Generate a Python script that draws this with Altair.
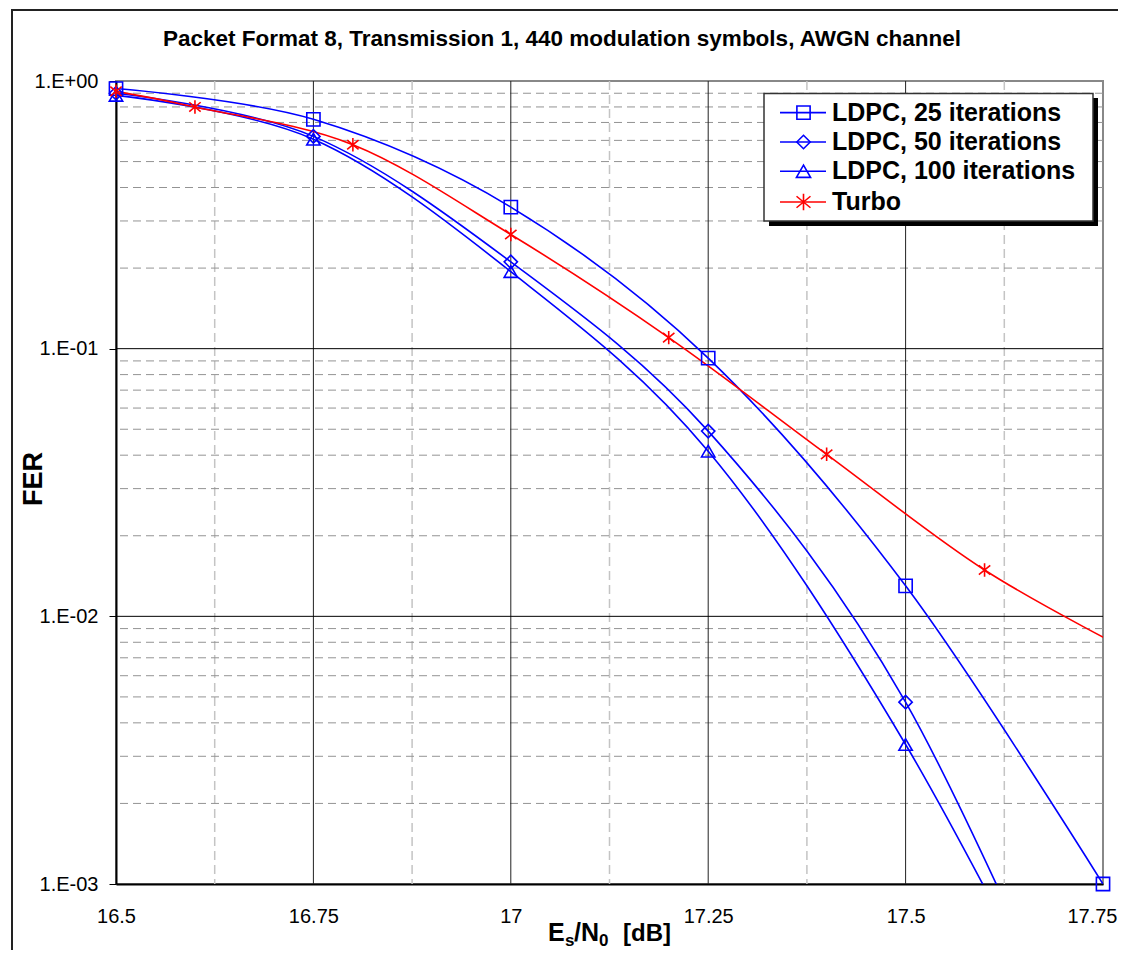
import altair as alt
import pandas as pd

# ---------------- data ----------------
es_ldpc = [16.5, 16.75, 17.0, 17.25, 17.5, 17.75]
fer_ldpc25 = [0.937, 0.719, 0.338, 0.0922, 0.0130, 0.0010]
fer_ldpc50 = [0.900, 0.621, 0.211, 0.0492, 0.00478, 0.000129]
fer_ldpc100 = [0.884, 0.606, 0.194, 0.0414, 0.00332, 0.000135]
es_turbo = [16.5, 16.6, 16.8, 17.0, 17.2, 17.4, 17.6, 17.8]
fer_turbo = [0.915, 0.800, 0.578, 0.267, 0.110, 0.0403, 0.0149, 0.0070]

series_names = ["LDPC, 25 iterations", "LDPC, 50 iterations",
                "LDPC, 100 iterations", "Turbo"]
series_colors = ["#0000FF", "#0000FF", "#0000FF", "#FF0000"]
ASTERISK = "M0,-1L0,1M-0.85,-0.7L0.85,0.7M-0.85,0.7L0.85,-0.7"
series_shapes = ["square", "diamond", "triangle-up", ASTERISK]
series_sizes = [175, 180, 200, 270]

x_ticks = [16.5, 16.75, 17.0, 17.25, 17.5, 17.75]
x_major_grid = [16.75, 17.0, 17.25, 17.5]
x_minor_grid = [16.625, 16.875, 17.125, 17.375, 17.625]
y_ticks = [1.0, 0.1, 0.01, 0.001]
y_major_grid = [0.1, 0.01]
y_minor_grid = [0.002, 0.003, 0.004, 0.005, 0.006, 0.007, 0.008, 0.009,
                0.02, 0.03, 0.04, 0.05, 0.06, 0.07, 0.08, 0.09,
                0.2, 0.3, 0.4, 0.5, 0.6, 0.7, 0.8, 0.9]

title_text = "Packet Format 8, Transmission 1, 440 modulation symbols, AWGN channel"

FONT = "Liberation Sans"
W, H = 987, 803

rows = []
for name, xs_, ys_ in [(series_names[0], es_ldpc, fer_ldpc25),
                       (series_names[1], es_ldpc, fer_ldpc50),
                       (series_names[2], es_ldpc, fer_ldpc100),
                       (series_names[3], es_turbo, fer_turbo)]:
    for a, b in zip(xs_, ys_):
        rows.append({"series": name, "esn0": a, "fer": b})
df = pd.DataFrame(rows)

xs = alt.Scale(domain=[16.5, 17.75], nice=False, zero=False)
ys = alt.Scale(type="log", domain=[0.001, 1], nice=False)

x_axis = alt.Axis(values=x_ticks, labelExpr="'' + datum.value", title=None, grid=False,
                  domainColor="#000000", domainWidth=2, ticks=False, tickSize=0,
                  labelPadding=22, labelFont=FONT, labelFontSize=20,
                  labelColor="#000000", labelFlush=False, labelOverlap=False,
                  labelAlign=alt.condition("datum.value >= 17.75", alt.value("right"), alt.value("center")),
                  labelOffset=alt.condition("datum.value >= 17.75", alt.value(14), alt.value(0)))
y_axis = alt.Axis(values=y_ticks, title=None, grid=False,
                  labelExpr="'1.E' + (datum.value >= 1 ? '+00' : '-0' + round(-log(datum.value)/LN10))",
                  domainColor="#000000", domainWidth=2, tickColor="#000000",
                  tickSize=7, tickWidth=1, labelPadding=11, labelFont=FONT,
                  labelFontSize=20, labelColor="#000000", labelFlush=False,
                  labelOverlap=False)

color_scale = alt.Scale(domain=series_names, range=series_colors)
shape_scale = alt.Scale(domain=series_names, range=series_shapes)
size_scale = alt.Scale(domain=series_names, range=series_sizes)

one = pd.DataFrame({"k": [0]})

# grid lines
ygrid_minor = alt.Chart(pd.DataFrame({"v": y_minor_grid})).mark_rule(
    color="#939393", strokeDash=[8, 5], strokeWidth=1
).encode(y=alt.Y("v:Q", scale=ys, axis=y_axis))
xgrid_minor = alt.Chart(pd.DataFrame({"v": x_minor_grid})).mark_rule(
    color="#c4c4c4", strokeDash=[9, 5], strokeWidth=1.5
).encode(x=alt.X("v:Q", scale=xs, axis=x_axis))
ygrid_major = alt.Chart(pd.DataFrame({"v": y_major_grid})).mark_rule(
    color="#000000", strokeWidth=1
).encode(y=alt.Y("v:Q", scale=ys, axis=y_axis))
xgrid_major = alt.Chart(pd.DataFrame({"v": x_major_grid})).mark_rule(
    color="#222222", strokeWidth=1
).encode(x=alt.X("v:Q", scale=xs, axis=x_axis))

lines = alt.Chart(df).mark_line(interpolate="cardinal", clip=True, strokeWidth=1.6).encode(
    x=alt.X("esn0:Q", scale=xs, axis=x_axis),
    y=alt.Y("fer:Q", scale=ys, axis=y_axis),
    color=alt.Color("series:N", scale=color_scale, legend=None),
    detail="series:N",
)

markers = alt.Chart(df).transform_filter(
    "datum.fer >= 0.001 && datum.esn0 <= 17.75"
).mark_point(filled=False, strokeWidth=1.6, opacity=1).encode(
    x=alt.X("esn0:Q", scale=xs, axis=x_axis),
    y=alt.Y("fer:Q", scale=ys, axis=y_axis),
    color=alt.Color("series:N", scale=color_scale, legend=None),
    shape=alt.Shape("series:N", scale=shape_scale, legend=None),
    size=alt.Size("series:N", scale=size_scale, legend=None),
)

# legend (manual, Excel style)
legend_layers = [
    alt.Chart(one).mark_rect(color="#000000").encode(
        x=alt.value(653), x2=alt.value(982), y=alt.value(17), y2=alt.value(145)),
    alt.Chart(one).mark_rect(fill="#ffffff", stroke="#333333", strokeWidth=1.5).encode(
        x=alt.value(648), x2=alt.value(977), y=alt.value(12.5), y2=alt.value(140)),
]
row_y = [31.6, 61, 90.3, 121]
for i, name in enumerate(series_names):
    legend_layers.append(alt.Chart(one).mark_rule(color=series_colors[i], strokeWidth=1.6).encode(
        x=alt.value(664), x2=alt.value(710), y=alt.value(row_y[i])))
    legend_layers.append(alt.Chart(one).mark_point(
        filled=False, strokeWidth=1.6, opacity=1, color=series_colors[i],
        shape=series_shapes[i], size=series_sizes[i]).encode(
        x=alt.value(687.5), y=alt.value(row_y[i])))
    legend_layers.append(alt.Chart(one).mark_text(
        align="left", baseline="middle", font=FONT, fontSize=25, fontWeight="bold",
        color="#000000").encode(
        x=alt.value(716), y=alt.value(row_y[i]), text=alt.value(name)))

# titles
title_mark = alt.Chart(one).mark_text(
    align="center", baseline="alphabetic", font=FONT, fontSize=22.5, fontWeight="bold",
    color="#000000").encode(x=alt.value(446), y=alt.value(-35), text=alt.value(title_text))
ytitle = alt.Chart(one).mark_text(
    align="center", baseline="alphabetic", angle=270, font=FONT, fontSize=27,
    fontWeight="bold", color="#000000").encode(
    x=alt.value(-74), y=alt.value(398), text=alt.value("FER"))

xt_parts = [("E", 432, 860, 25), ("s", 449, 865, 17), ("/N", 458, 860, 25),
            ("0", 483, 865, 17), ("[dB]", 507, 860, 24)]
xtitle_layers = [
    alt.Chart(one).mark_text(align="left", baseline="alphabetic", font=FONT,
                             fontSize=fs, fontWeight="bold", color="#000000").encode(
        x=alt.value(px), y=alt.value(py), text=alt.value(t))
    for t, px, py, fs in xt_parts
]

# outer chart frame (left and top edges; the others run off the page)
frame_top = alt.Chart(one).mark_rule(color="#222222", strokeWidth=2).encode(
    x=alt.value(-105), x2=alt.value(1040), y=alt.value(-71))
frame_left = alt.Chart(one).mark_rule(color="#222222", strokeWidth=2).encode(
    x=alt.value(-104), y=alt.value(-72), y2=alt.value(900))

chart = alt.layer(
    xgrid_minor, ygrid_minor, xgrid_major, ygrid_major, lines, markers,
    *legend_layers, title_mark, ytitle, *xtitle_layers, frame_top, frame_left
).properties(
    width=W, height=H,
    padding={"left": 108, "top": 73, "right": 15, "bottom": 66},
    autosize=alt.AutoSizeParams(type="none"),
    background="#ffffff",
).configure_view(stroke="#888888", strokeWidth=2)

chart.save("out.html", embed_options={"renderer": "svg", "actions": False})
